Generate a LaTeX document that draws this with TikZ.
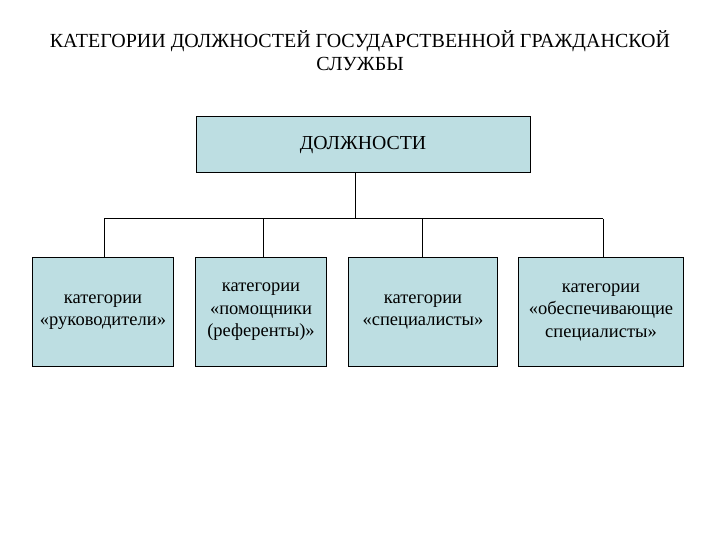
\documentclass[tikz,border=0pt]{standalone}
\usepackage{fontspec}
\setmainfont{Liberation Serif}
\definecolor{boxfill}{RGB}{189,222,226}
\begin{document}
\begin{tikzpicture}[x=1pt,y=-1pt,
  box/.style={draw=black, line width=1pt, fill=boxfill, align=center, inner sep=0pt,
    font=\fontsize{18.5}{22.5}\selectfont},
  conn/.style={draw=black, line width=1pt}]
\useasboundingbox (0,0) rectangle (720,540);
\node[align=center, font=\fontsize{20}{23}\selectfont] (title) at (360,51)
  {КАТЕГОРИИ ДОЛЖНОСТЕЙ ГОСУДАРСТВЕННОЙ ГРАЖДАНСКОЙ\\СЛУЖБЫ};
\node[box, minimum width=334pt, minimum height=56pt, font=\fontsize{19.8}{23}\selectfont] (top) at (363,145) {ДОЛЖНОСТИ};
\node[box, minimum width=141pt, minimum height=109pt] (b1) at (103,312) {категории\\«руководители»};
\node[box, minimum width=131pt, minimum height=109pt] (b2) at (261,312) {категории\\«помощники\\(референты)»};
\node[box, minimum width=149pt, minimum height=109pt] (b3) at (423,312) {категории\\«специалисты»};
\node[box, minimum width=165pt, minimum height=109pt] (b4) at (601,312) {категории\\«обеспечивающие\\специалисты»};
\coordinate (hub) at (355,219);
\coordinate (h1) at (104,219);
\coordinate (h2) at (263,219);
\coordinate (h3) at (422,219);
\coordinate (h4) at (603,219);
\draw[conn] (top.south -| hub) -- (hub);
\draw[conn] (h1) -- (h4);
\draw[conn] (h1) -- (h1 |- b1.north);
\draw[conn] (h2) -- (h2 |- b2.north);
\draw[conn] (h3) -- (h3 |- b3.north);
\draw[conn] (h4) -- (h4 |- b4.north);
\end{tikzpicture}
\end{document}
